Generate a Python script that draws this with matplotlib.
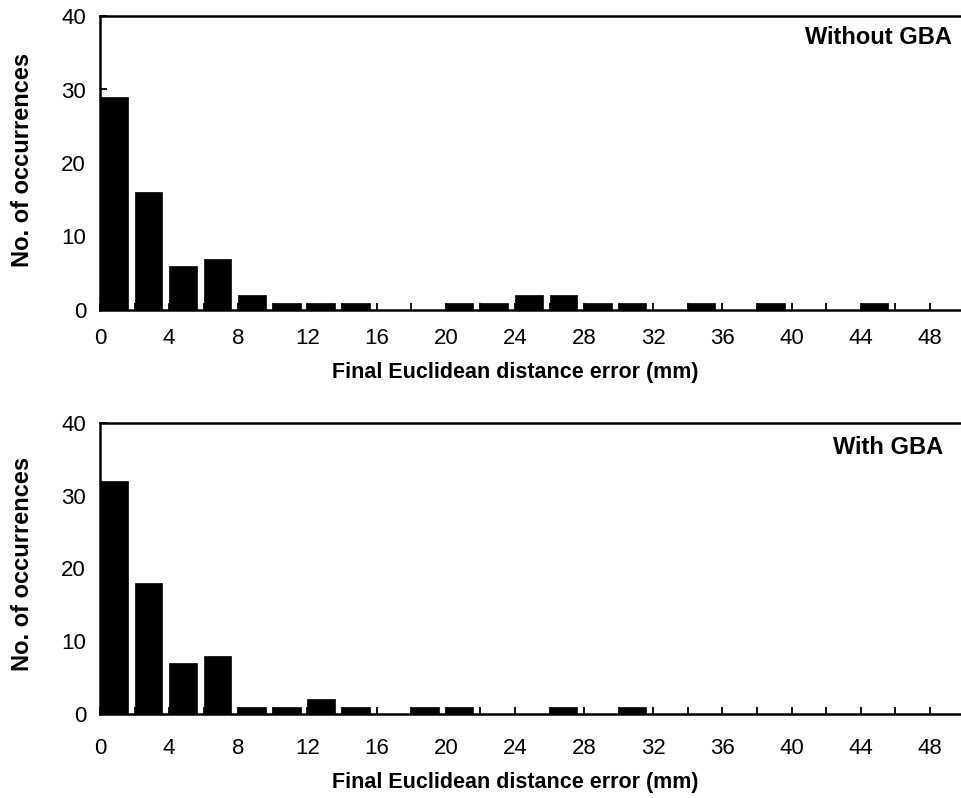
import matplotlib
matplotlib.use("Agg")
import matplotlib.pyplot as plt
import numpy as np

plt.rcParams['font.family'] = ['Liberation Sans', 'DejaVu Sans']

bin_left = list(range(0, 50, 2))
without_gba = [29, 16, 6, 7, 2, 1, 1, 1, 0, 0, 1, 1, 2, 2, 1, 1, 0, 1, 0, 1, 0, 0, 1, 0, 0]
with_gba = [32, 18, 7, 8, 1, 1, 2, 1, 0, 1, 1, 0, 0, 1, 0, 1, 0, 0, 0, 0, 0, 0, 0, 0, 0]
panel_labels = ["Without GBA", "With GBA"]
xticks_major = list(range(0, 49, 4))
yticks = [0, 10, 20, 30, 40]
xlabel = "Final Euclidean distance error (mm)"
ylabel = "No. of occurrences"

W, H = 961, 798
fig = plt.figure(figsize=(W / 100, H / 100), dpi=100)

# axes rects in pixels: (left, top, right, bottom)
rects = [(100, 16, 961, 310), (100, 423, 961, 714)]
label_pos = [(952, 37), (943, 447)]
xtick_pads = [13, 17]
xlabel_y = [378, 788]
ylabel_y = [160, 564]

for i, data in enumerate([without_gba, with_gba]):
    l, t, r, b = rects[i]
    lx, ly = label_pos[i]
    ax = fig.add_axes([l / W, 1 - b / H, (r - l) / W, (b - t) / H])
    ax.bar(bin_left, data, width=1.6, align='edge', color='black', edgecolor='black', linewidth=0.5)
    ax.set_xlim(0, 49.8)
    ax.set_ylim(0, 40)
    ax.spines['right'].set_visible(False)
    for s in ['top', 'left', 'bottom']:
        ax.spines[s].set_linewidth(1.8)
    ax.set_xticks(xticks_major)
    ax.set_xticks(list(range(2, 50, 4)), minor=True)
    ax.set_yticks(yticks)
    ax.tick_params(axis='both', which='both', direction='in', length=5, width=1.3, labelsize=16)
    ax.tick_params(axis='y', which='both', left=True, pad=10)
    ax.tick_params(axis='x', which='both', top=False, pad=xtick_pads[i])
    fig.text(515 / W, 1 - xlabel_y[i] / H, xlabel, ha='center', va='baseline',
             fontsize=15.5, fontweight='bold')
    fig.text(23 / W, 1 - ylabel_y[i] / H, ylabel, ha='center', va='center', rotation=90,
             fontsize=17, fontweight='bold')
    ax.text((lx - l) / (r - l), 1 - (ly - t) / (b - t), panel_labels[i], transform=ax.transAxes,
            ha='right', va='center', fontsize=17, fontweight='bold')

fig.savefig("out.png", dpi=100)
